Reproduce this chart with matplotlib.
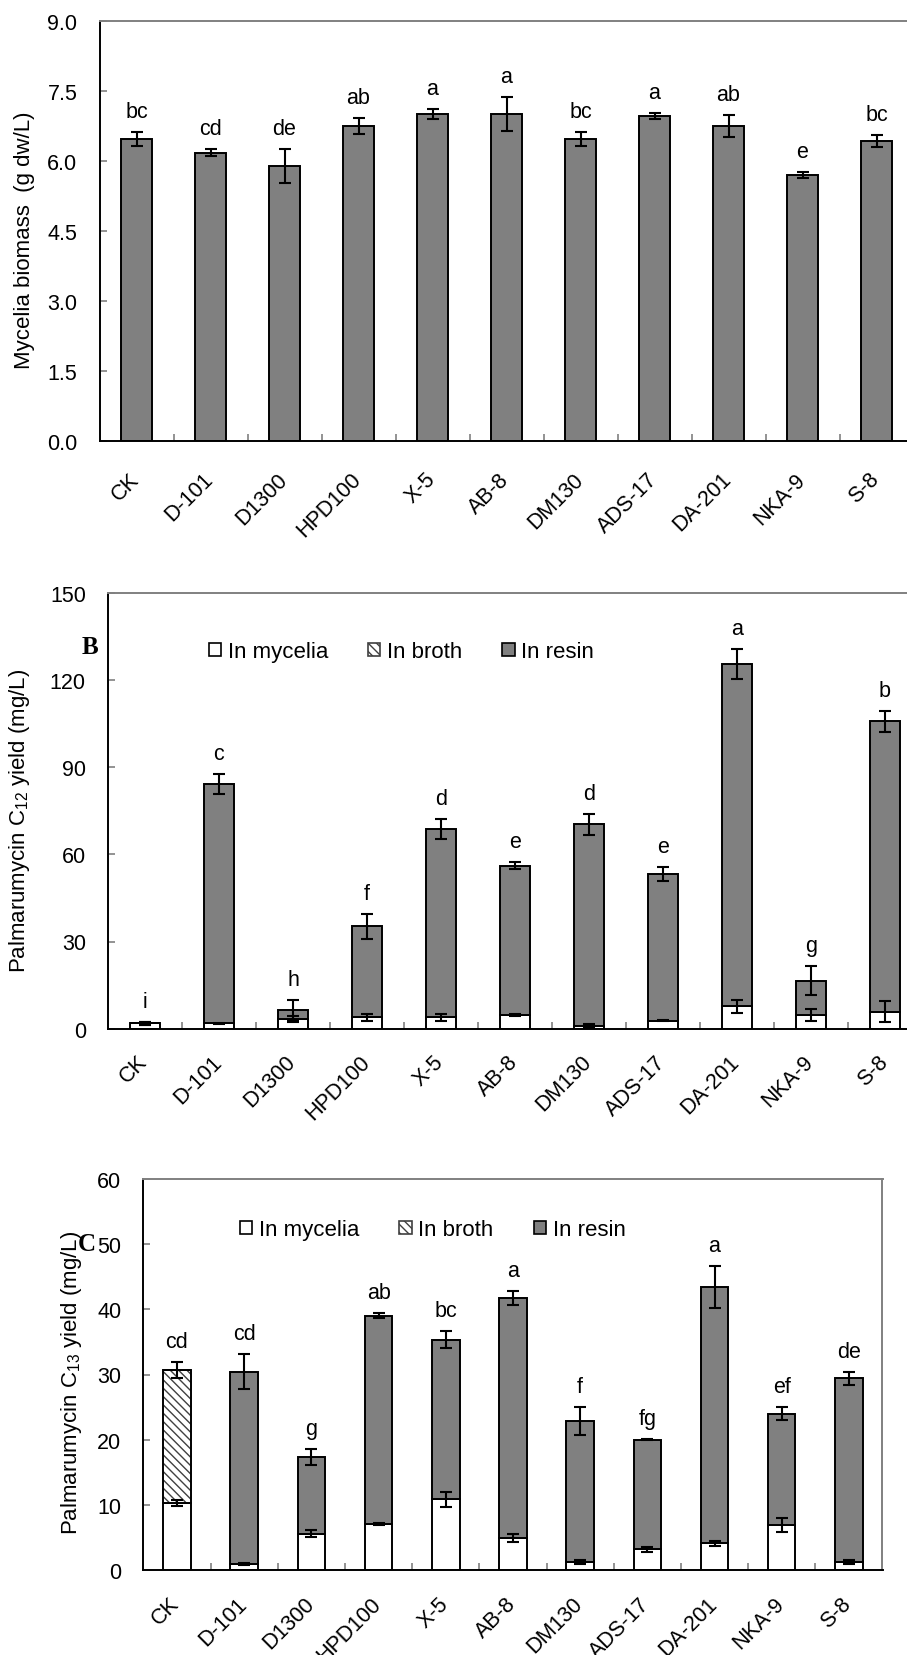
import matplotlib
matplotlib.use('Agg')
import matplotlib.pyplot as plt
from matplotlib.patches import Patch
from matplotlib.transforms import ScaledTranslation

plt.rcParams['font.family'] = ['Liberation Sans', 'DejaVu Sans']
plt.rcParams['hatch.linewidth'] = 1.0

# resin names on the x axis
categories = ['CK', 'D-101', 'D1300', 'HPD100', 'X-5', 'AB-8', 'DM130',
              'ADS-17', 'DA-201', 'NKA-9', 'S-8']

# panel A: mycelia biomass (g dw/L)
biomass = [6.46, 6.18, 5.89, 6.75, 7.00, 7.00, 6.46, 6.96, 6.75, 5.70, 6.43]
biomass_err = [0.15, 0.07, 0.36, 0.18, 0.11, 0.36, 0.15, 0.07, 0.24, 0.07, 0.13]
letters_a = ['bc', 'cd', 'de', 'ab', 'a', 'a', 'bc', 'a', 'ab', 'e', 'bc']

# panel B: palmarumycin C12 (mg/L)
c12_mycelia = [1.8, 1.8, 3.3, 3.9, 3.9, 4.7, 1.0, 2.8, 7.7, 4.7, 5.8]
c12_mycelia_err = [0.6, 0.3, 0.9, 1.3, 1.2, 0.5, 0.5, 0.3, 2.2, 2.1, 3.6]
c12_broth = [0, 0, 0, 0, 0, 0, 0, 0, 0, 0, 0]
c12_resin = [0, 82.4, 3.2, 31.3, 64.8, 51.4, 69.4, 50.4, 117.8, 11.8, 99.9]
c12_total_err = [0.6, 3.5, 3.4, 4.2, 3.5, 1.1, 3.6, 2.3, 5.3, 4.9, 3.5]
letters_b = ['i', 'c', 'h', 'f', 'd', 'e', 'd', 'e', 'a', 'g', 'b']

# panel C: palmarumycin C13 (mg/L)
c13_mycelia = [10.3, 0.95, 5.57, 7.05, 10.83, 4.9, 1.2, 3.15, 4.1, 6.9, 1.2]
c13_mycelia_err = [0.5, 0.2, 0.5, 0.2, 1.1, 0.6, 0.3, 0.4, 0.4, 1.1, 0.3]
c13_broth = [20.35, 0, 0, 0, 0, 0, 0, 0, 0, 0, 0]
c13_resin = [0, 29.45, 11.73, 32.0, 24.47, 36.8, 21.6, 16.85, 39.3, 17.1, 28.2]
c13_total_err = [1.2, 2.7, 1.25, 0.45, 1.3, 1.05, 2.15, 0.05, 3.25, 0.95, 1.0]
letters_c = ['cd', 'cd', 'g', 'ab', 'bc', 'a', 'f', 'fg', 'a', 'ef', 'de']

W, H = 907, 1656
fig = plt.figure(figsize=(W / 100, H / 100), dpi=100)

GRAY = '#808080'
BAR_W = 0.41
ERR_KW = dict(fmt='none', ecolor='black', elinewidth=1.5, capsize=4.5, capthick=1.5)


def px_rect(left, top, right, bottom):
    return [left / W, 1 - bottom / H, (right - left) / W, (bottom - top) / H]


def style_axes(ax, ymax, yticks, fmt, label, label_x, xpad):
    ax.set_xlim(-0.5, len(categories) - 0.5)
    ax.set_ylim(0, ymax)
    ax.set_yticks(yticks)
    ax.set_yticklabels([fmt.format(v) for v in yticks])
    ax.set_xticks(list(range(len(categories))))
    ax.set_xticklabels(categories, rotation=45, ha='right', rotation_mode='anchor')
    ax.set_xticks([i + 0.5 for i in range(len(categories) - 1)], minor=True)
    ax.tick_params(axis='x', which='major', length=0, labelsize=15.5, pad=xpad)
    ax.tick_params(axis='x', which='minor', direction='in', length=5, color=GRAY, width=1.2)
    ax.tick_params(axis='y', direction='in', length=5, color=GRAY, width=1.2,
                   labelsize=15.5, pad=16)
    shift = ScaledTranslation(-8 / 100, 0, fig.dpi_scale_trans)
    for lab in ax.get_xticklabels():
        lab.set_transform(lab.get_transform() + shift)
    for side in ['left', 'bottom']:
        ax.spines[side].set_color('black')
        ax.spines[side].set_linewidth(1.4)
    for side in ['top', 'right']:
        ax.spines[side].set_color(GRAY)
        ax.spines[side].set_linewidth(1.4)
    ax.set_ylabel(label, fontsize=16)
    ax.yaxis.set_label_coords(label_x, 0.48)


def add_letters(ax, tops, letters):
    for i, (t, s) in enumerate(zip(tops, letters)):
        ax.annotate(s, (i, t), xytext=(0, 15), textcoords='offset pixels',
                    ha='center', va='baseline', fontsize=15.5)


def stacked(ax, mycelia, myc_err, broth, resin, tot_err):
    x = list(range(len(categories)))
    ax.bar(x, mycelia, BAR_W, color='white', edgecolor='black', linewidth=1.4, zorder=2)
    ax.bar(x, broth, BAR_W, bottom=mycelia, color='white', edgecolor='#404040',
           hatch='\\\\\\\\', linewidth=0, zorder=2)
    ax.bar(x, broth, BAR_W, bottom=mycelia, fill=False, edgecolor='black',
           linewidth=1.4, zorder=2)
    base = [m + b for m, b in zip(mycelia, broth)]
    ax.bar(x, resin, BAR_W, bottom=base, color=GRAY, edgecolor='black',
           linewidth=1.4, zorder=2)
    total = [b + r for b, r in zip(base, resin)]
    ax.errorbar(x, mycelia, yerr=myc_err, zorder=3, **ERR_KW)
    ax.errorbar(x, total, yerr=tot_err, zorder=3, **ERR_KW)
    return [t + e for t, e in zip(total, tot_err)]


def add_legend(ax, anchor):
    handles = [Patch(facecolor='white', edgecolor='black', linewidth=1.2, label='In mycelia'),
               Patch(facecolor='white', edgecolor='#404040', hatch='\\\\\\\\',
                     linewidth=1.2, label='In broth'),
               Patch(facecolor=GRAY, edgecolor='black', linewidth=1.2, label='In resin')]
    ax.legend(handles=handles, loc='center left', bbox_to_anchor=anchor, ncol=3,
              frameon=False, fontsize=16, handlelength=0.55, handleheight=0.55,
              handletextpad=0.3, columnspacing=1.8, borderaxespad=0, borderpad=0)


# panel A
ax1 = fig.add_axes(px_rect(99.5, 22, 913.5, 441.7))
x = list(range(len(categories)))
ax1.bar(x, biomass, BAR_W, color=GRAY, edgecolor='black', linewidth=1.4, zorder=2)
ax1.errorbar(x, biomass, yerr=biomass_err, zorder=3, **ERR_KW)
style_axes(ax1, 9.0, [0, 1.5, 3.0, 4.5, 6.0, 7.5, 9.0], '{:.1f}',
           'Mycelia biomass  (g dw/L)', -0.079, 20)
add_letters(ax1, [b + e for b, e in zip(biomass, biomass_err)], letters_a)

# panel B
ax2 = fig.add_axes(px_rect(108, 593.7, 922, 1029.7))
tops_b = stacked(ax2, c12_mycelia, c12_mycelia_err, c12_broth, c12_resin, c12_total_err)
style_axes(ax2, 150, [0, 30, 60, 90, 120, 150], '{:.0f}',
           r'Palmarumycin C$_{\mathregular{12}}$ yield (mg/L)', -0.093, 16)
add_letters(ax2, tops_b, letters_b)
add_legend(ax2, (0.124, 0.864))

# panel C
ax3 = fig.add_axes(px_rect(143.4, 1180, 882.5, 1571))
tops_c = stacked(ax3, c13_mycelia, c13_mycelia_err, c13_broth, c13_resin, c13_total_err)
style_axes(ax3, 60, [0, 10, 20, 30, 40, 50, 60], '{:.0f}',
           r'Palmarumycin C$_{\mathregular{13}}$ yield (mg/L)', -0.080, 16.5)
add_letters(ax3, tops_c, letters_c)
add_legend(ax3, (0.131, 0.870))

# panel letters
fig.text(90 / W, 1 - 647 / H, 'B', family=['Liberation Serif', 'DejaVu Serif'],
         fontweight='bold', fontsize=18, ha='center', va='center')
fig.text(87 / W, 1 - 1245 / H, 'C', family=['Liberation Serif', 'DejaVu Serif'],
         fontweight='bold', fontsize=18, ha='center', va='center')

fig.savefig('out.png', dpi=100)
